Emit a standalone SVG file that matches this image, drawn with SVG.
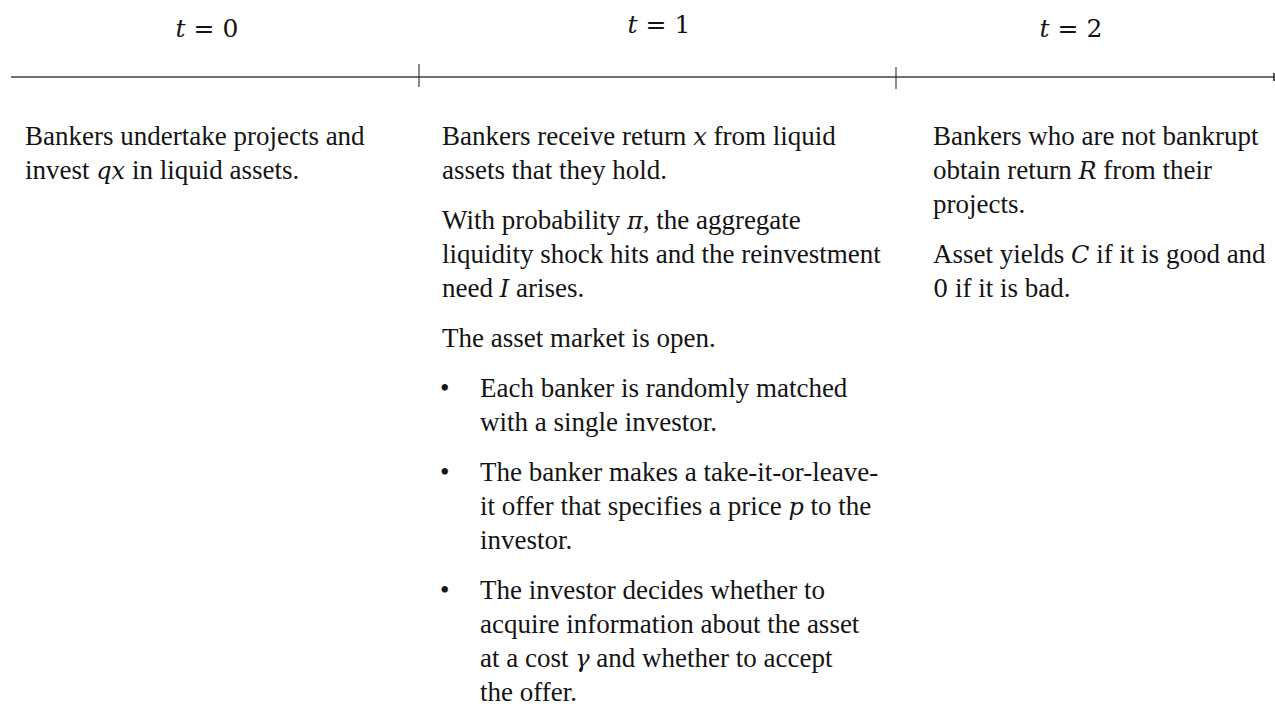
<svg xmlns="http://www.w3.org/2000/svg" width="1275" height="708" viewBox="0 0 1275 708">
<style>
.b{font-family:"Liberation Serif","Times New Roman",serif;font-size:27px;fill:#141414}
.m{font-family:"DejaVu Serif",serif;font-style:italic;font-size:24px}
.h{font-family:"DejaVu Serif",serif;font-size:25px;fill:#141414}
.hi{font-style:italic}
.d{font-family:"DejaVu Serif",serif;font-size:24px}
</style>
<rect width="1275" height="708" fill="#fff"/>
<g id="timeline">
<line x1="11" y1="77" x2="1274" y2="77" stroke="#404040" stroke-width="1.5"/>
<line x1="419" y1="64" x2="419" y2="87" stroke="#1a1a1a" stroke-width="1"/>
<line x1="896" y1="67" x2="896" y2="89" stroke="#1a1a1a" stroke-width="1"/>
<line x1="1274" y1="73" x2="1274" y2="81" stroke="#1a1a1a" stroke-width="1.5"/>
</g>
<g id="t0"><text class="h" x="207" y="37" text-anchor="middle"><tspan class="hi">t</tspan> = 0</text>
<text class="b"><tspan x="25" y="145">Bankers undertake projects and</tspan><tspan x="25" y="179">invest <tspan class="m">qx</tspan> in liquid assets.</tspan></text></g>
<g id="t1"><text class="h" x="659" y="33" text-anchor="middle"><tspan class="hi">t</tspan> = 1</text>
<text class="b"><tspan x="442" y="145">Bankers receive return <tspan class="m">x</tspan> from liquid</tspan><tspan x="442" y="179">assets that they hold.</tspan>
<tspan x="442" y="229">With probability <tspan class="m">π</tspan>, the aggregate</tspan><tspan x="442" y="263">liquidity shock hits and the reinvestment</tspan><tspan x="442" y="297">need <tspan class="m">I</tspan> arises.</tspan>
<tspan x="442" y="347">The asset market is open.</tspan>
<tspan x="440" y="397">•</tspan><tspan x="480" y="397">Each banker is randomly matched</tspan><tspan x="480" y="431">with a single investor.</tspan>
<tspan x="440" y="481">•</tspan><tspan x="480" y="481">The banker makes a take-it-or-leave-</tspan><tspan x="480" y="515">it offer that specifies a price <tspan class="m">p</tspan> to the</tspan><tspan x="480" y="549">investor.</tspan>
<tspan x="440" y="599">•</tspan><tspan x="480" y="599">The investor decides whether to</tspan><tspan x="480" y="633">acquire information about the asset</tspan><tspan x="480" y="667">at a cost <tspan class="m">γ</tspan> and whether to accept</tspan><tspan x="480" y="701">the offer.</tspan></text></g>
<g id="t2"><text class="h" x="1071" y="37" text-anchor="middle"><tspan class="hi">t</tspan> = 2</text>
<text class="b"><tspan x="933" y="145">Bankers who are not bankrupt</tspan><tspan x="933" y="179">obtain return <tspan class="m">R</tspan> from their</tspan><tspan x="933" y="213">projects.</tspan>
<tspan x="933" y="263">Asset yields <tspan class="m">C</tspan> if it is good and</tspan><tspan x="933" y="297"><tspan class="d">0</tspan> if it is bad.</tspan></text></g>
</svg>
